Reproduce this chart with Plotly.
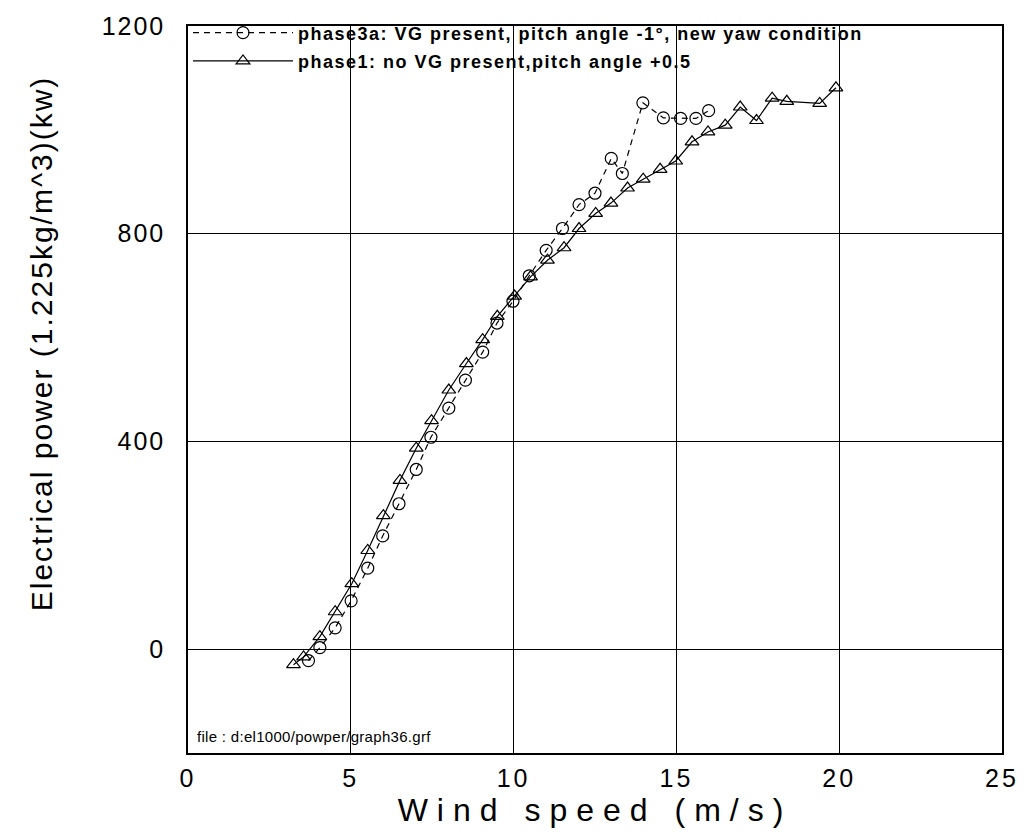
import plotly.graph_objects as go

# Power curve, phase 3a (vortex generators, pitch -1 deg, new yaw condition)
wind_3a = [3.70, 4.05, 4.52, 5.01, 5.52, 5.98, 6.48, 7.01, 7.46, 8.01, 8.52,
           9.05, 9.49, 9.98, 10.48, 11.00, 11.50, 12.01, 12.50, 13.00, 13.34,
           13.97, 14.60, 15.13, 15.60, 15.99]
power_3a = [-22, 3, 41, 93, 156, 218, 280, 346, 408, 464, 518,
            572, 628, 670, 719, 768, 810, 856, 878, 945, 916,
            1052, 1023, 1022, 1022, 1037]

# Power curve, phase 1 (no vortex generators, pitch +0.5)
wind_1 = [3.24, 3.55, 4.05, 4.52, 5.03, 5.52, 6.00, 6.51, 7.01, 7.48, 8.01,
          8.55, 9.05, 9.50, 10.03, 10.52, 11.04, 11.55, 12.01, 12.52, 12.99,
          13.50, 13.98, 14.50, 14.98, 15.48, 15.97, 16.50, 16.96, 17.46,
          17.94, 18.39, 19.40, 19.90]
power_1 = [-30, -15, 24, 72, 126, 190, 257, 325, 387, 440, 499,
           550, 596, 641, 680, 717, 749, 773, 810, 839, 859,
           888, 905, 924, 940, 977, 996, 1009, 1044, 1018,
           1061, 1055, 1051, 1081]

x_ticks = [0, 5, 10, 15, 20, 25]
y_ticks = [0, 400, 800, 1200]

name_3a = "phase3a: VG present, pitch angle -1°, new yaw condition"
name_1 = "phase1: no VG present,pitch angle +0.5"

FONT = "Liberation Sans, Arial, sans-serif"


def spaced(text, px):
    """Wrap a label in a span with extra letter spacing."""
    return f'<span style="letter-spacing:{px}px">{text}</span>'


fig = go.Figure()
fig.add_trace(go.Scatter(
    x=wind_3a, y=power_3a, name=spaced(name_3a, 1.5), mode="lines+markers",
    line=dict(color="black", width=1.2, dash="6px,5px"),
    marker=dict(symbol="circle-open", size=12, color="black",
                line=dict(width=1.2, color="black")),
    legendgroup="a",
))
fig.add_trace(go.Scatter(
    x=wind_1, y=power_1, name=spaced(name_1, 1.5), mode="lines+markers",
    line=dict(color="black", width=1.2),
    marker=dict(symbol="triangle-up-open", size=12, color="black",
                line=dict(width=1.2, color="black")),
    legendgroup="b",
))

fig.add_annotation(
    text=spaced("file : d:el1000/powper/graph36.grf", 0.3), xref="x", yref="y",
    x=0.2, y=-168, xanchor="left", yanchor="middle", showarrow=False,
    font=dict(family=FONT, size=15, color="black"),
)

# y-axis title, placed as a rotated annotation
fig.add_annotation(
    text=spaced("Electrical power (1.225kg/m^3)(kw)", 2),
    xref="paper", yref="paper", x=-0.179, y=0.564,
    xanchor="center", yanchor="middle", textangle=-90, showarrow=False,
    font=dict(family=FONT, size=30, color="black"),
)

axis_common = dict(
    showline=True, linecolor="black", linewidth=1.5, mirror=True,
    showgrid=True, gridcolor="black", gridwidth=1.2,
    ticks="", tickfont=dict(family=FONT, size=25, color="black"),
    zeroline=False,
)

fig.update_layout(
    width=1031, height=839,
    margin=dict(l=188, r=18, t=21, b=86),
    paper_bgcolor="white", plot_bgcolor="white",
    font=dict(family=FONT, color="black"),
    showlegend=True,
    legend=dict(
        x=0.0, y=1.016, xanchor="left", yanchor="top",
        bgcolor="rgba(0,0,0,0)", borderwidth=0,
        itemwidth=100, tracegroupgap=2,
        font=dict(family=FONT, size=18, color="black", weight="bold"),
    ),
    xaxis=dict(
        range=[0, 25], tickvals=x_ticks,
        ticktext=[spaced(str(v), 3) for v in x_ticks], ticklabelstandoff=2,
        title=dict(text=spaced("Wind speed (m/s)", 9),
                   font=dict(family=FONT, size=32, color="black"), standoff=0),
        **axis_common,
    ),
    yaxis=dict(
        range=[-200, 1200], tickvals=y_ticks,
        ticktext=[spaced(str(v), 2) for v in y_ticks], ticklabelstandoff=16,
        **axis_common,
    ),
)

fig.write_html("out.html")
